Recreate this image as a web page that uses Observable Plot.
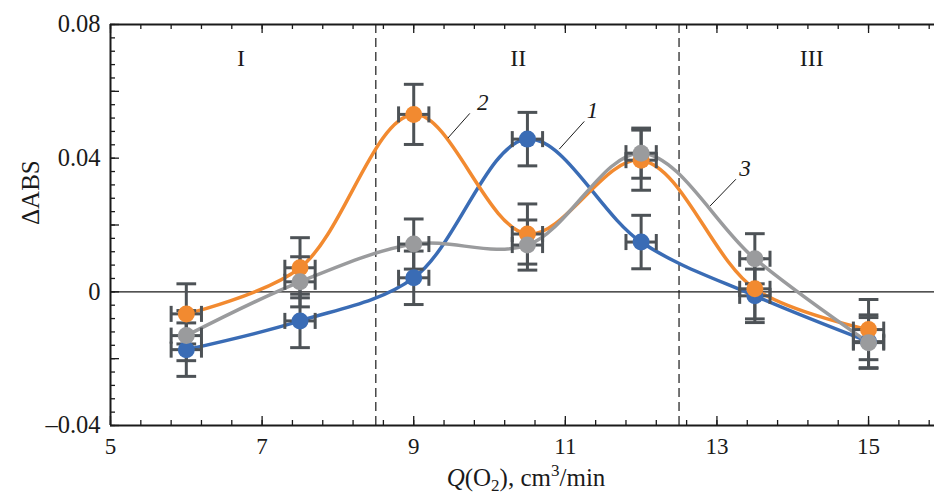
<!DOCTYPE html>
<html><head><meta charset="utf-8">
<script src="https://cdn.jsdelivr.net/npm/d3@7"></script>
<script src="https://cdn.jsdelivr.net/npm/@observablehq/plot@0.6"></script>
<style>body{margin:0;background:#fff}</style>
</head><body><div id="chart"></div>
<script>
// ---- data ----
const flow = [6, 7.5, 9, 10.5, 12, 13.5, 15];
const series1 = [-0.0173, -0.0087, 0.0042, 0.0457, 0.0149, -0.0012, -0.0149];
const series2 = [-0.0066, 0.0072, 0.0531, 0.0173, 0.0394, 0.0009, -0.0113];
const series3 = [-0.0131, 0.0030, 0.0143, 0.0140, 0.0415, 0.0099, -0.0152];
const seriesNames = ["1", "2", "3"];
const seriesYErr = [0.008, 0.009, 0.0075];
const xErr = 0.2;
const seriesColors = ["#3a6cb5", "#f28a30", "#9a9b9d"];
const regionBounds = [8.5, 12.5];
const regionLabels = ["I", "II", "III"];
const regionX = [6.72, 10.38, 14.25];
const regionY = 0.0698;
const curveLabelText = ["2", "1", "3"];
const curveLabelX = [9.91, 11.36, 13.37];
const curveLabelY = [0.0565, 0.0541, 0.0368];
const leaderX1 = [9.45, 10.92, 12.91];
const leaderY1 = [0.0460, 0.0427, 0.0257];
const leaderX2 = [9.74, 11.25, 13.25];
const leaderY2 = [0.0534, 0.0510, 0.0337];
const xTickLabels = [5, 7, 9, 11, 13, 15];
const yTickLabels = [-0.04, 0, 0.04, 0.08];
const xMinorTicks = d3.range(5, 15.9, 0.4).map(v => +v.toFixed(2));
const yMinorTicks = d3.range(-0.04, 0.0801, 0.004).map(v => +v.toFixed(3));
const yMajorTicks = [-0.04, -0.02, 0, 0.02, 0.04, 0.06, 0.08];

const allSeries = [series1, series2, series3];
const rows = [];
allSeries.forEach((vals, s) => vals.forEach((v, i) => rows.push({
  series: seriesNames[s], x: flow[i], y: v, e: seriesYErr[s]
})));
const drawOrder = ["1", "2", "3"];

const W = 934, H = 495;
const mL = 110, mR = 0, mT = 24, mB = 70;
const pw = W - mL - mR, ph = H - mT - mB;
const capX = 0.13, capY = 0.0024;
const ebColor = "#4d5256";
const font = "Liberation Serif, Times New Roman, serif";
const ink = "#1a1a1a";
const fs = 23;

const chart = Plot.plot({
  width: W, height: H,
  marginLeft: mL, marginRight: mR, marginTop: mT, marginBottom: mB,
  style: {fontFamily: font, background: "#fff"},
  x: {domain: [5, 15.87], axis: null},
  y: {domain: [-0.04, 0.08], axis: null},
  color: {domain: seriesNames, range: seriesColors},
  marks: [
    // inner ticks
    Plot.tickX(xMinorTicks, {x: d => d, stroke: ink, strokeWidth: 1.3, insetTop: ph - 5}),
    Plot.tickX(xMinorTicks, {x: d => d, stroke: ink, strokeWidth: 1.3, insetBottom: ph - 5}),
    Plot.tickX(xTickLabels, {x: d => d, stroke: ink, strokeWidth: 1.3, insetTop: ph - 9}),
    Plot.tickX(xTickLabels, {x: d => d, stroke: ink, strokeWidth: 1.3, insetBottom: ph - 9}),
    Plot.tickY(yMinorTicks, {y: d => d, stroke: ink, strokeWidth: 1.3, insetRight: pw - 5}),
    Plot.tickY(yMajorTicks, {y: d => d, stroke: ink, strokeWidth: 1.3, insetRight: pw - 9}),
    // zero line and region separators
    Plot.ruleY([0], {stroke: ink, strokeWidth: 1.1}),
    Plot.ruleX(regionBounds, {stroke: ink, strokeWidth: 1.2, strokeDasharray: "9,5"}),
    Plot.text(regionLabels, {x: (d, i) => regionX[i], y: () => regionY, text: d => d, fontSize: 24, fontFamily: font, fill: ink}),
    // curves
    Plot.line(rows, {x: "x", y: "y", z: "series", stroke: "series", strokeWidth: 3.5, curve: "catmull-rom"}),
    // vertical error bars
    Plot.link(rows, {x1: "x", x2: "x", y1: d => d.y - d.e, y2: d => d.y + d.e, stroke: ebColor, strokeWidth: 3}),
    Plot.link(rows, {x1: d => d.x - capX, x2: d => d.x + capX, y1: d => d.y + d.e, y2: d => d.y + d.e, stroke: ebColor, strokeWidth: 3}),
    Plot.link(rows, {x1: d => d.x - capX, x2: d => d.x + capX, y1: d => d.y - d.e, y2: d => d.y - d.e, stroke: ebColor, strokeWidth: 3}),
    // horizontal error bars
    Plot.link(rows, {x1: d => d.x - xErr, x2: d => d.x + xErr, y1: "y", y2: "y", stroke: ebColor, strokeWidth: 3}),
    Plot.link(rows, {x1: d => d.x - xErr, x2: d => d.x - xErr, y1: d => d.y - capY, y2: d => d.y + capY, stroke: ebColor, strokeWidth: 3}),
    Plot.link(rows, {x1: d => d.x + xErr, x2: d => d.x + xErr, y1: d => d.y - capY, y2: d => d.y + capY, stroke: ebColor, strokeWidth: 3}),
    // points
    Plot.dot(rows, {x: "x", y: "y", fill: "series", r: 8.5, sort: d => drawOrder.indexOf(d.series)}),
    // curve labels
    Plot.link(curveLabelText, {x1: (d, i) => leaderX1[i], y1: (d, i) => leaderY1[i], x2: (d, i) => leaderX2[i], y2: (d, i) => leaderY2[i], stroke: ink, strokeWidth: 1}),
    Plot.text(curveLabelText, {x: (d, i) => curveLabelX[i], y: (d, i) => curveLabelY[i], text: d => d, fontSize: 23, fontStyle: "italic", fontFamily: font, fill: ink}),
    // frame lines
    Plot.ruleX([5], {stroke: ink, strokeWidth: 2}),
    Plot.ruleY([-0.04, 0.08], {stroke: ink, strokeWidth: 2}),
    // tick labels
    Plot.text(xTickLabels, {x: d => d, frameAnchor: "bottom", dy: 28, text: d => String(d), fontSize: fs, fontFamily: font, fill: ink}),
    Plot.text(yTickLabels, {y: d => d, frameAnchor: "left", dx: -10, textAnchor: "end",
      text: d => d === 0 ? "0" : (d < 0 ? "\u2013" + Math.abs(d).toFixed(2) : d.toFixed(2)), fontSize: 24.5, fontFamily: font, fill: ink}),
    // y-axis title
    Plot.text(["\u0394ABS"], {frameAnchor: "left", dx: -80, rotate: -90, text: d => d, fontSize: 25, fontFamily: font, fill: ink})
  ]
});
document.getElementById("chart").appendChild(chart);

// x-axis title with italic Q, subscript and superscript
const svg = d3.select(chart);
const t = svg.append("text")
  .attr("x", 526).attr("y", 486)
  .attr("text-anchor", "middle")
  .attr("font-family", font).attr("font-size", 25).attr("fill", ink);
t.append("tspan").attr("font-style", "italic").text("Q");
t.append("tspan").text("(O");
t.append("tspan").attr("dy", 5).attr("font-size", 17).text("2");
t.append("tspan").attr("dy", -5).text("), cm");
t.append("tspan").attr("dy", -10).attr("font-size", 17).text("3");
t.append("tspan").attr("dy", 10).text("/min");
</script>
</body></html>
